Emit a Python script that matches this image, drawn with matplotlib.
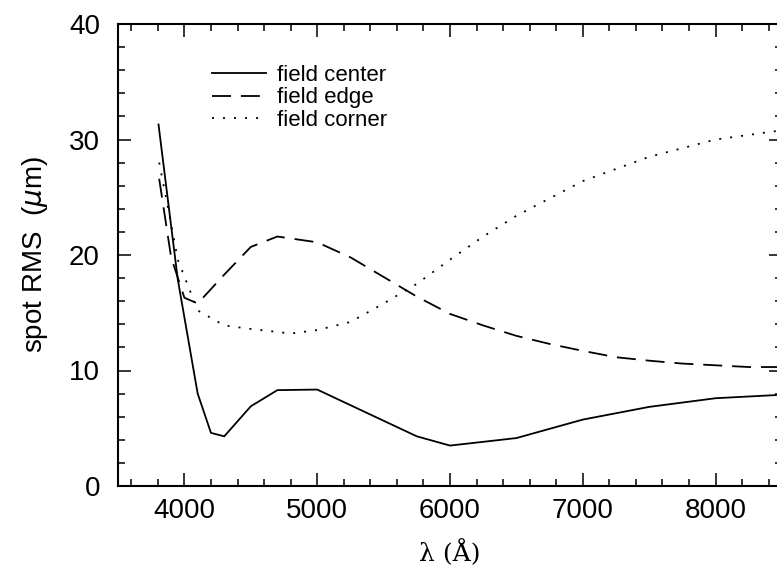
import matplotlib
matplotlib.use("Agg")
import matplotlib.pyplot as plt
from matplotlib.ticker import MultipleLocator

# spot RMS vs wavelength at three field positions
wl_center = [3805, 3950, 4100, 4200, 4300, 4500, 4700, 5000, 5750, 6000,
             6500, 7000, 7500, 8000, 8500]
rms_center = [31.3, 17.9, 8.0, 4.6, 4.3, 6.9, 8.3, 8.35, 4.3, 3.5,
              4.15, 5.75, 6.85, 7.6, 7.9]

wl_edge = [3810, 3900, 4000, 4100, 4300, 4500, 4700, 5000, 5250, 5500,
           5750, 6000, 6250, 6500, 6750, 7000, 7250, 7500, 7750, 8000,
           8250, 8500]
rms_edge = [26.6, 19.8, 16.3, 15.8, 18.3, 20.7, 21.6, 21.1, 19.8, 18.1,
            16.4, 14.9, 13.9, 13.0, 12.3, 11.7, 11.15, 10.85, 10.6, 10.45,
            10.3, 10.3]

wl_corner = [3810, 3890, 3950, 4100, 4300, 4500, 4800, 5000, 5250, 5500,
             5750, 6000, 6250, 6500, 6750, 7000, 7500, 8000, 8500]
rms_corner = [28.0, 23.3, 19.6, 15.2, 13.9, 13.6, 13.2, 13.5, 14.2, 15.8,
              17.5, 19.6, 21.6, 23.4, 24.9, 26.4, 28.5, 30.0, 30.8]

labels = ["field center", "field edge", "field corner"]

plt.rcParams["font.family"] = ["Liberation Sans", "DejaVu Sans"]

fig = plt.figure(figsize=(7.77, 5.77), dpi=100)
ax = fig.add_axes([118 / 777, 1 - 486 / 577, 664 / 777, 462 / 577])

lw = 1.3
ax.plot(wl_center, rms_center, color="black", lw=lw, label=labels[0])
ax.plot(wl_edge, rms_edge, color="black", lw=lw, dashes=(10.5, 5.5),
        label=labels[1])
ax.plot(wl_corner, rms_corner, color="black", lw=lw, dashes=(1.1, 5.0),
        label=labels[2])

ax.set_xlim(3500, 8500)
ax.set_ylim(0, 40)
ax.xaxis.set_major_locator(MultipleLocator(1000))
ax.xaxis.set_minor_locator(MultipleLocator(200))
ax.yaxis.set_major_locator(MultipleLocator(10))
ax.yaxis.set_minor_locator(MultipleLocator(2))

ax.tick_params(which="both", direction="in", top=True, right=True,
               width=1.1, color="black")
ax.tick_params(which="major", length=9.5)
ax.tick_params(which="minor", length=5)
ax.tick_params(axis="x", labelsize=20, pad=9)
ax.tick_params(axis="y", labelsize=20, pad=13)
for s in ax.spines.values():
    s.set_linewidth(1.5)

ax.set_xlabel("λ (Å)", fontsize=18, family="DejaVu Serif", labelpad=11)
ax.set_ylabel("spot RMS  ($\\mu$m)", fontsize=20, labelpad=14)

ax.legend(loc="upper left", bbox_to_anchor=(0.142, 0.912), frameon=False,
          fontsize=16, handlelength=2.4, handletextpad=0.5,
          labelspacing=0.08, borderpad=0, borderaxespad=0)

fig.savefig("out.png", dpi=100)
